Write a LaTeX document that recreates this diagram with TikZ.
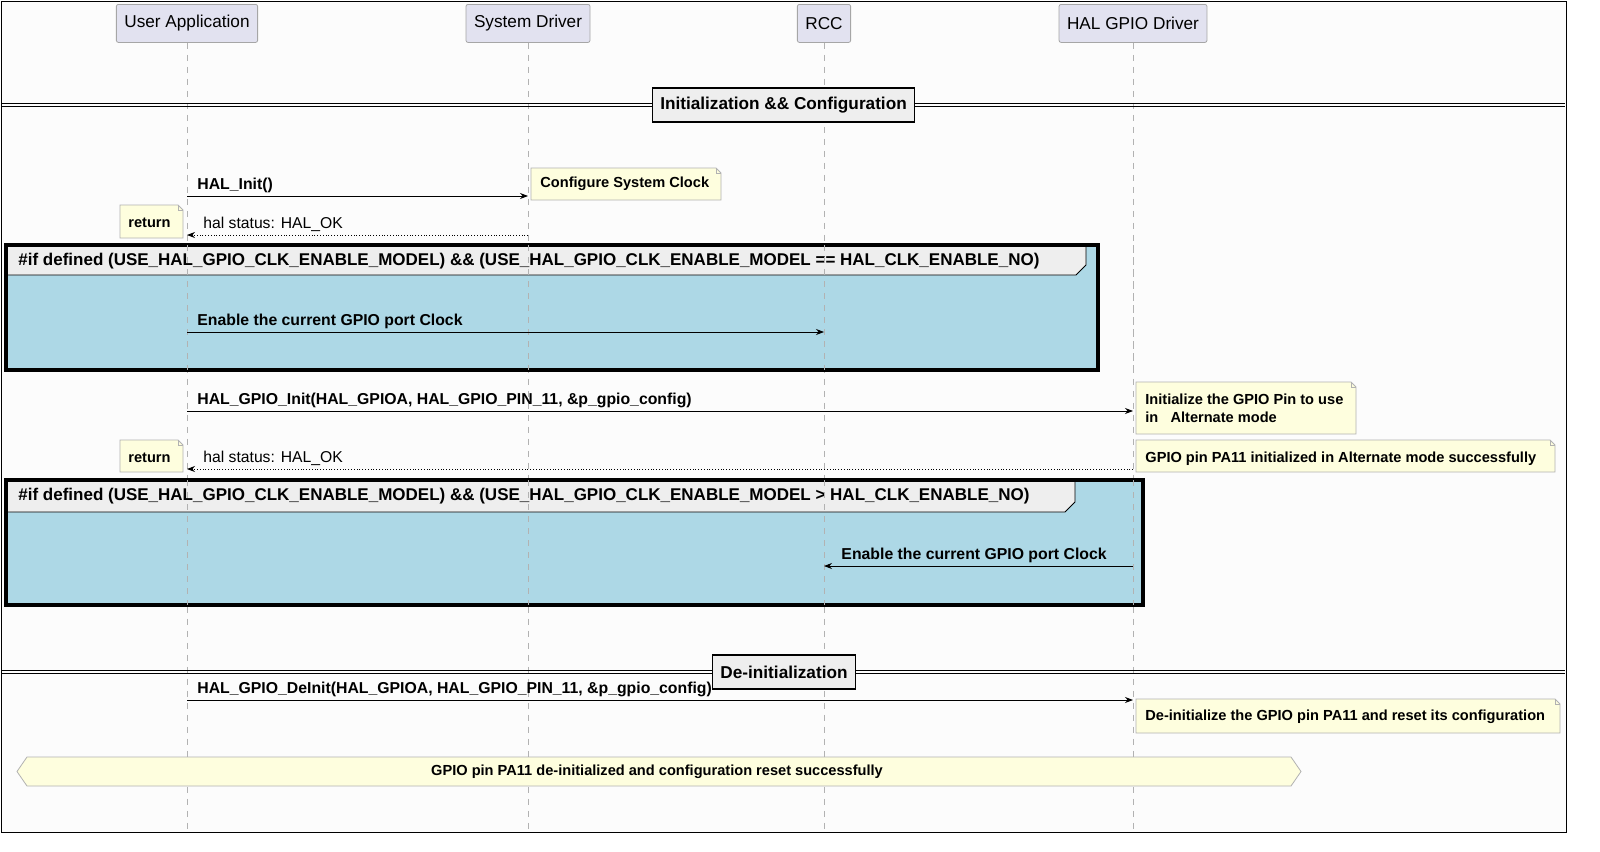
\documentclass[tikz,border=0pt]{standalone}
\usepackage{fontspec}
\setmainfont{Liberation Sans}
\usetikzlibrary{arrows.meta,positioning}
\setlength{\parindent}{0pt}
\definecolor{partfill}{RGB}{226,226,240}
\definecolor{notefill}{RGB}{254,254,222}
\definecolor{grpfill}{RGB}{173,216,230}
\definecolor{tabfill}{RGB}{238,238,238}
\definecolor{bgfill}{RGB}{252,252,252}
\tikzset{
  part/.style={draw=gray!70,fill=partfill,rounded corners=1pt,minimum height=19pt,inner xsep=4pt,font=\fontsize{8.6}{10}\selectfont},
  msg/.style={-{Stealth[length=4pt,width=3pt]},line width=0.4pt},
  ret/.style={msg,densely dotted},
  lbl/.style={anchor=south west,inner sep=1pt,font=\fontsize{7.9}{9}\selectfont\bfseries},
  rlbl/.style={anchor=south west,inner sep=1pt,font=\fontsize{7.85}{9}\selectfont},
  notetxt/.style={anchor=west,inner sep=0pt,align=left,font=\fontsize{7.3}{9}\selectfont\bfseries},
  sect/.style={draw,fill=tabfill,line width=0.6pt,inner sep=4pt,minimum height=17pt,font=\fontsize{8.6}{10}\selectfont\bfseries},
  life/.style={draw=gray!60,dashed,line width=0.4pt}
}
\newcommand{\notebox}[4]{%
  \fill[notefill,draw=gray!60,line width=0.4pt] (#1,#2)--(#3-5,#2)--(#3,#2+5)--(#3,#4)--(#1,#4)--cycle;%
  \draw[gray!60,line width=0.4pt] (#3-5,#2)--(#3-5,#2+5)--(#3,#2+5);%
}
\begin{document}%
\begin{tikzpicture}[x=0.5pt,y=-0.5pt]
\useasboundingbox (0,0) rectangle (1600,851);
\fill[white] (0,0) rectangle (1600,851);
\draw[fill=bgfill,line width=0.5pt] (1,1) rectangle (1566,832);

% participants
\node[part,anchor=north] (ua) at (187,4) {User Application};
\node[part,anchor=north] (sd) at (528,4) {System Driver};
\node[part,anchor=north] (rcc) at (824,4) {RCC};
\node[part,anchor=north] (gd) at (1133,4) {HAL GPIO Driver};
\foreach \n/\x in {ua/187,sd/528,rcc/824,gd/1133}
  \draw[life] (\n.south) -- (\x,831);

% groups
\fill[grpfill] (6,245) rectangle (1098,370);
\fill[tabfill] (6,245)--(1086,245)--(1086,265)--(1076,275)--(6,275)--cycle;
\draw[line width=0.4pt] (1086,245)--(1086,265)--(1076,275)--(6,275);
\draw[line width=1.6pt] (6,245) rectangle (1098,370);
\node[anchor=west,inner sep=0pt,font=\fontsize{8.5}{10}\selectfont\bfseries] (g1) at (18,261) {\#if defined (USE\_HAL\_GPIO\_CLK\_ENABLE\_MODEL) \&\& (USE\_HAL\_GPIO\_CLK\_ENABLE\_MODEL == HAL\_CLK\_ENABLE\_NO)};
\fill[grpfill] (6,480) rectangle (1143,605);
\fill[tabfill] (6,480)--(1075,480)--(1075,502)--(1065,512)--(6,512)--cycle;
\draw[line width=0.4pt] (1075,480)--(1075,502)--(1065,512)--(6,512);
\draw[line width=1.6pt] (6,480) rectangle (1143,605);
\node[anchor=west,inner sep=0pt,font=\fontsize{8.5}{10}\selectfont\bfseries] (g2) at (18,496) {\#if defined (USE\_HAL\_GPIO\_CLK\_ENABLE\_MODEL) \&\& (USE\_HAL\_GPIO\_CLK\_ENABLE\_MODEL > HAL\_CLK\_ENABLE\_NO)};
\foreach \x in {187,528,824,1133}
  \draw[life] (\x,245) -- (\x,370) (\x,480) -- (\x,605);

% section dividers
\draw[line width=0.5pt] (2,103.5) -- (1565,103.5) (2,106.5) -- (1565,106.5);
\node[sect] (init) at (783.5,105) {Initialization \&\& Configuration};
\draw[line width=0.5pt] (2,670.5) -- (1565,670.5) (2,673.5) -- (1565,673.5);
\node[sect] (deinit) at (784,672) {De-initialization};

% anchor points on lifelines
\coordinate (a1) at (187,196); \coordinate (b1) at (528,196);
\coordinate (a2) at (187,235); \coordinate (b2) at (528,235);
\coordinate (a3) at (187,332); \coordinate (c3) at (824,332);
\coordinate (a4) at (187,411); \coordinate (d4) at (1133,411);
\coordinate (a5) at (187,469); \coordinate (d5) at (1133,469);
\coordinate (c6) at (824,566); \coordinate (d6) at (1133,566);
\coordinate (a7) at (187,700); \coordinate (d7) at (1133,700);

% messages
\draw[msg] (a1) -- (b1);
\node[lbl] at ([xshift=4pt,yshift=0.5pt]a1) {HAL\_Init()};
\draw[ret] (b2) -- (a2);
\node[rlbl] at ([xshift=7pt,yshift=0.5pt]a2) {hal status: HAL\_OK};
\draw[msg] (a3) -- (c3);
\node[lbl] at ([xshift=4pt,yshift=0.5pt]a3) {Enable the current GPIO port Clock};
\draw[msg] (a4) -- (d4);
\node[lbl] at ([xshift=4pt,yshift=0.5pt]a4) {HAL\_GPIO\_Init(HAL\_GPIOA, HAL\_GPIO\_PIN\_11, \&p\_gpio\_config)};
\draw[ret] (d5) -- (a5);
\node[rlbl] at ([xshift=7pt,yshift=0.5pt]a5) {hal status: HAL\_OK};
\draw[msg] (d6) -- (c6);
\node[lbl,anchor=south east] at ([xshift=-12pt,yshift=0.5pt]d6) {Enable the current GPIO port Clock};
\draw[msg] (a7) -- (d7);
\node[lbl] at ([xshift=4pt,yshift=0.5pt]a7) {HAL\_GPIO\_DeInit(HAL\_GPIOA, HAL\_GPIO\_PIN\_11, \&p\_gpio\_config)};

% notes
\notebox{531}{168}{721}{200}
\node[notetxt] (n1) at (540,184) {Configure System Clock};
\notebox{120}{205}{183}{238}
\node[notetxt] (n2) at (128,223) {return};
\notebox{1136}{382}{1356}{434}
\node[notetxt] (n3) at (1145,408) {Initialize the GPIO Pin to use\\in\ \ \ Alternate mode};
\notebox{120}{440}{183}{472}
\node[notetxt] (n4) at (128,458) {return};
\notebox{1136}{440}{1555}{472}
\node[notetxt] (n5) at (1145,459) {GPIO pin PA11 initialized in Alternate mode successfully};
\notebox{1136}{699}{1560}{733}
\node[notetxt] (n6) at (1145,717) {De-initialize the GPIO pin PA11 and reset its configuration};
\fill[notefill,draw=gray!60,line width=0.4pt] (17,771.5)--(27,757)--(1291,757)--(1301,771.5)--(1291,786)--(27,786)--cycle;
\node[notetxt,anchor=center] (n7) at (657,772) {GPIO pin PA11 de-initialized and configuration reset successfully};
\end{tikzpicture}%
\end{document}
